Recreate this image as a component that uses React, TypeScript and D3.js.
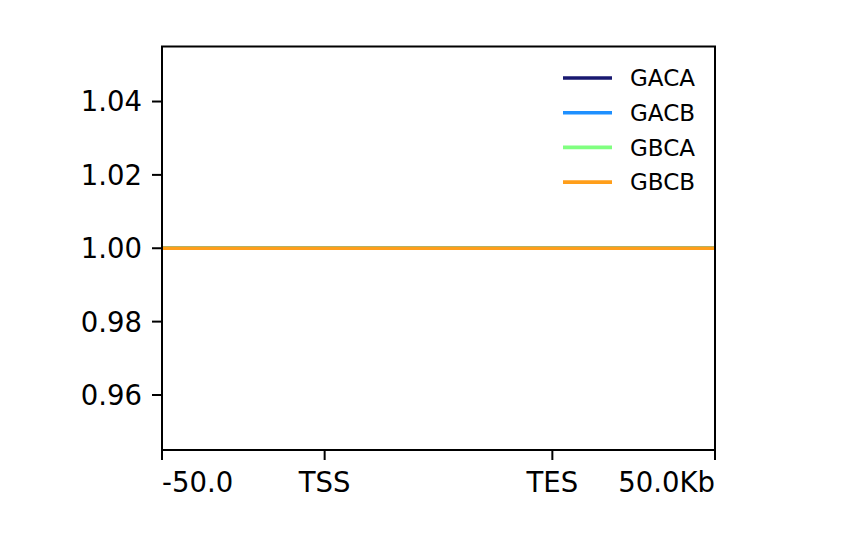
import React, { useRef, useEffect } from "react";
import * as d3 from "d3";

// bin positions (kb from region start, scaled body) and signal values
const binPositions = [0, 50, 120, 170];
const seriesNames = ["GACA", "GACB", "GBCA", "GBCB"];
const seriesColors = ["#191970", "#1e90ff", "#80ff80", "#ff9e1a"];
const gacaValues = [1.0, 1.0, 1.0, 1.0];
const gacbValues = [1.0, 1.0, 1.0, 1.0];
const gbcaValues = [1.0, 1.0, 1.0, 1.0];
const gbcbValues = [1.0, 1.0, 1.0, 1.0];
const xTickPositions = [0, 50, 120, 170];
const xTickLabels = ["-50.0", "TSS", "TES", "50.0Kb"];
const yTicks = [0.96, 0.98, 1.0, 1.02, 1.04];
const yDomain = [0.945, 1.055];

const App: React.FC = () => {
  const ref = useRef<SVGSVGElement | null>(null);

  useEffect(() => {
    if (!ref.current) return;
    const svg = d3.select(ref.current);
    svg.selectAll("*").remove();

    const width = 866;
    const height = 551;
    const left = 162;
    const right = 715;
    const top = 46.5;
    const bottom = 450;
    const font = "DejaVu Sans, sans-serif";

    svg.attr("width", width).attr("height", height);
    svg.append("rect").attr("width", width).attr("height", height).attr("fill", "#fff");

    const x = d3.scaleLinear().domain([binPositions[0], binPositions[binPositions.length - 1]]).range([left, right]);
    const y = d3.scaleLinear().domain(yDomain).range([bottom, top]);

    const allValues = [gacaValues, gacbValues, gbcaValues, gbcbValues];
    const line = d3
      .line<number>()
      .x((_, i) => x(binPositions[i]))
      .y((d) => y(d));

    const clip = svg.append("clipPath").attr("id", "plotclip");
    clip.append("rect").attr("x", left).attr("y", top).attr("width", right - left).attr("height", bottom - top);

    const plot = svg.append("g").attr("clip-path", "url(#plotclip)");
    allValues.forEach((vals, i) => {
      plot
        .append("path")
        .datum(vals)
        .attr("d", line)
        .attr("fill", "none")
        .attr("stroke", seriesColors[i])
        .attr("stroke-width", 3.6);
    });

    // y ticks
    const yAxis = svg.append("g");
    yTicks.forEach((t) => {
      yAxis
        .append("line")
        .attr("x1", left - 10)
        .attr("x2", left)
        .attr("y1", y(t))
        .attr("y2", y(t))
        .attr("stroke", "#000")
        .attr("stroke-width", 2);
      yAxis
        .append("text")
        .attr("x", left - 20)
        .attr("y", y(t))
        .attr("dy", "0.36em")
        .attr("text-anchor", "end")
        .attr("font-family", font)
        .attr("font-size", 27.5)
        .text(t.toFixed(2));
    });

    // x ticks
    const xAxis = svg.append("g");
    xTickPositions.forEach((p, i) => {
      xAxis
        .append("line")
        .attr("x1", x(p))
        .attr("x2", x(p))
        .attr("y1", bottom)
        .attr("y2", bottom + 10)
        .attr("stroke", "#000")
        .attr("stroke-width", 2);
      const anchor = i === 0 ? "start" : i === xTickPositions.length - 1 ? "end" : "middle";
      xAxis
        .append("text")
        .attr("x", x(p))
        .attr("y", bottom + 42)
        .attr("text-anchor", anchor)
        .attr("font-family", font)
        .attr("font-size", 27.5)
        .text(xTickLabels[i]);
    });

    // frame
    svg
      .append("rect")
      .attr("x", left)
      .attr("y", top)
      .attr("width", right - left)
      .attr("height", bottom - top)
      .attr("fill", "none")
      .attr("stroke", "#000")
      .attr("stroke-width", 2);

    // legend
    const legend = svg.append("g");
    seriesNames.forEach((name, i) => {
      const ly = 78 + i * 34.7;
      legend
        .append("line")
        .attr("x1", 563)
        .attr("x2", 612)
        .attr("y1", ly)
        .attr("y2", ly)
        .attr("stroke", seriesColors[i])
        .attr("stroke-width", 3.6);
      legend
        .append("text")
        .attr("x", 630)
        .attr("y", ly)
        .attr("dy", "0.36em")
        .attr("font-family", font)
        .attr("font-size", 23)
        .text(name);
    });
  }, []);

  return <svg ref={ref} style={{ position: "absolute", left: 0, top: 0 }} />;
};

export default App;
